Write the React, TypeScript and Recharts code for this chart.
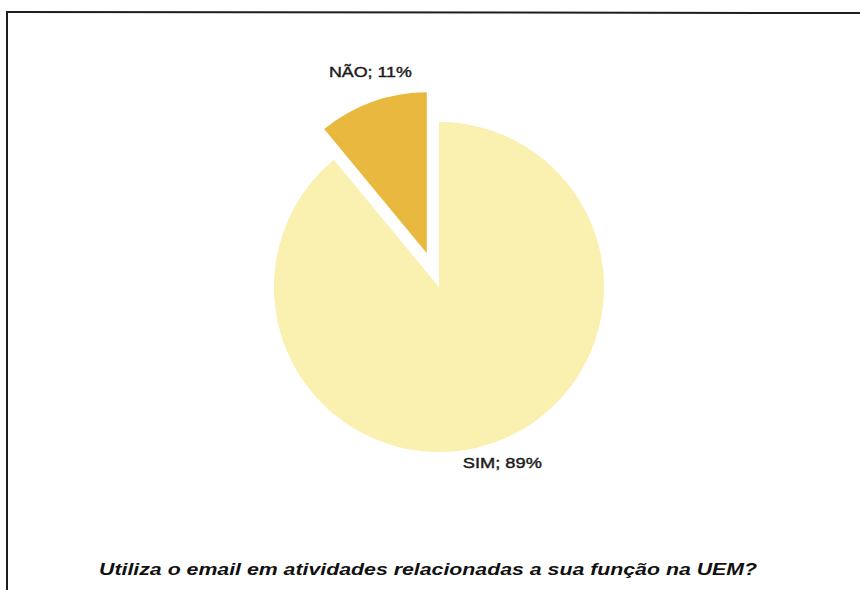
import React from "react";
import { PieChart, Pie, Cell } from "recharts";

const categories = ["NÃO", "SIM"];
const values = [11, 89];
const labels = ["NÃO; 11%", "SIM; 89%"];
const title = "Utiliza o email em atividades relacionadas a sua função na UEM?";

const data = categories.map((name, i) => ({ name, value: values[i], label: labels[i] }));

const COLORS = ["#E8B93E", "#FAF0B0"];
const CX = 439;
const CY = 287;
const R = 165;
const R_NAO = 161;
const EXPLODE = 36;
const RAD = Math.PI / 180;

const total = values.reduce((a, b) => a + b, 0);
const naoMid = 90 + (values[0] / total) * 180;
const naoCx = CX + EXPLODE * Math.cos(naoMid * RAD);
const naoCy = CY - EXPLODE * Math.sin(naoMid * RAD);

const labelTweak: Record<number, { dr: number; dx: number; len: number }> = {
  0: { dr: 32, dx: 9, len: 83 },
  1: { dr: 22, dx: 0, len: 79 },
};

function makeLabel(only: number) {
  return (props: any) => {
    const { cx, cy, midAngle, outerRadius, index } = props;
    if (index !== only) return null;
    const t = labelTweak[index];
    const r = outerRadius + t.dr;
    const x = cx + r * Math.cos(-midAngle * RAD) + t.dx;
    const y = cy + r * Math.sin(-midAngle * RAD);
    return (
      <text
        x={x}
        y={y + 5}
        textAnchor="middle"
        fontFamily="'Liberation Sans', Arial, sans-serif"
        fontSize={14.5}
        fill="#1a1a1a"
        stroke="#1a1a1a"
        strokeWidth={0.4}
        textLength={t.len}
        lengthAdjust="spacingAndGlyphs"
      >
        {data[index].label}
      </text>
    );
  };
}

export default function App() {
  return (
    <div style={{ position: "absolute", left: 0, top: 0, width: 860, height: 590, background: "#fff", overflow: "hidden" }}>
      <PieChart
        width={860}
        height={590}
        margin={{ top: 0, right: 0, bottom: 0, left: 0 }}
        style={{ position: "absolute", left: 0, top: 0 }}
      >
        <Pie
          data={data}
          dataKey="value"
          nameKey="name"
          cx={CX}
          cy={CY}
          outerRadius={R}
          startAngle={90}
          endAngle={450}
          stroke="none"
          isAnimationActive={false}
          labelLine={false}
          label={makeLabel(1)}
        >
          {data.map((d, i) => (
            <Cell key={d.name} fill={i === 1 ? COLORS[1] : "transparent"} />
          ))}
        </Pie>
        <Pie
          data={data}
          dataKey="value"
          nameKey="name"
          cx={naoCx}
          cy={naoCy}
          outerRadius={R_NAO}
          startAngle={90}
          endAngle={450}
          stroke="none"
          isAnimationActive={false}
          labelLine={false}
          label={makeLabel(0)}
        >
          {data.map((d, i) => (
            <Cell key={d.name} fill={i === 0 ? COLORS[0] : "transparent"} />
          ))}
        </Pie>
      </PieChart>
      <svg width={860} height={590} style={{ position: "absolute", left: 0, top: 0, pointerEvents: "none" }}>
        <line x1={6} y1={12} x2={860} y2={13} stroke="#1e1e1e" strokeWidth={2} />
        <line x1={7} y1={12} x2={7} y2={590} stroke="#1e1e1e" strokeWidth={2} />
        <text
          x={428}
          y={575}
          textAnchor="middle"
          fontFamily="'Liberation Sans', Arial, sans-serif"
          fontWeight="bold"
          fontStyle="italic"
          fontSize={17}
          fill="#111"
          textLength={658}
          lengthAdjust="spacingAndGlyphs"
        >
          {title}
        </text>
      </svg>
    </div>
  );
}
